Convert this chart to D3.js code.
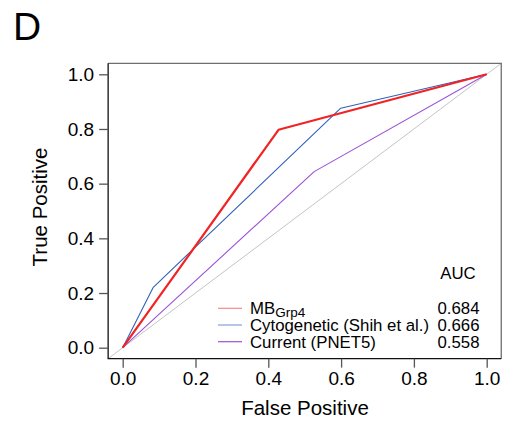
<!DOCTYPE html>
<html>
<head>
<meta charset="utf-8">
<script src="https://cdn.jsdelivr.net/npm/d3@7"></script>
<style>
  body { margin: 0; background: #fff; }
  text { font-family: "Liberation Sans", Arial, sans-serif; fill: #000; }
</style>
</head>
<body>
<script>
  var w = 512; //svg width
  var h = 423; //svg height

  //ROC curves (false positive, true positive)
  var mbFpr = [0, 0.428, 1];
  var mbTpr = [0, 0.797, 1];
  var cytoFpr = [0, 0.084, 0.599, 1];
  var cytoTpr = [0, 0.221, 0.876, 1];
  var currFpr = [0, 0.526, 1];
  var currTpr = [0, 0.644, 1];

  var seriesNames = ["MB", "Cytogenetic (Shih et al.)", "Current (PNET5)"];
  var aucValues = ["0.684", "0.666", "0.558"];
  var seriesColors = ["#f02424", "#2f62b8", "#9b52d6"];
  var legendColors = ["#f58a8a", "#86a0d4", "#9b52d6"];
  var tickValues = [0, 0.2, 0.4, 0.6, 0.8, 1.0];

  var svg = d3.select("body").append("svg")
      .attr("width", w)
      .attr("height", h);

  //SCALES
  var x = d3.scaleLinear().domain([0, 1]).range([122.7, 486.7]);
  var y = d3.scaleLinear().domain([0, 1]).range([347.7, 74.3]);
  var x0 = x(-0.04), x1 = x(1.04), y0 = y(-0.04), y1 = y(1.04);

  //panel letter
  svg.append("text").attr("x", 13).attr("y", 40)
      .style("font-size", "39px").text("D");

  //diagonal, clipped to box
  svg.append("line")
      .attr("x1", x(-0.04)).attr("y1", y(-0.04))
      .attr("x2", x(1.04)).attr("y2", y(1.04))
      .attr("stroke", "#c4c4c4").attr("stroke-width", 1);

  var line = d3.line()
      .x(function(d) { return x(d[0]); })
      .y(function(d) { return y(d[1]); });

  var curves = [
      { fpr: currFpr, tpr: currTpr, color: seriesColors[2], width: 1.1 },
      { fpr: cytoFpr, tpr: cytoTpr, color: seriesColors[1], width: 1.1 },
      { fpr: mbFpr, tpr: mbTpr, color: seriesColors[0], width: 2.2 }
  ];

  curves.forEach(function(c) {
      svg.append("path")
          .attr("d", line(d3.zip(c.fpr, c.tpr)))
          .attr("fill", "none")
          .attr("stroke", c.color)
          .attr("stroke-width", c.width)
          .attr("stroke-linejoin", "round");
  });

  //BOX
  svg.append("path")
      .attr("d", "M" + x0 + "," + y1 + "H" + x1 + "V" + y0)
      .attr("fill", "none").attr("stroke", "#6e6e6e").attr("stroke-width", 1.3);
  svg.append("path")
      .attr("d", "M" + x0 + "," + y1 + "V" + y0 + "H" + x1)
      .attr("fill", "none").attr("stroke", "#111").attr("stroke-width", 1.3);

  //AXES
  var xAxis = svg.append("g")
      .attr("transform", "translate(0," + y0 + ")")
      .call(d3.axisBottom(x).tickValues(tickValues).tickFormat(d3.format(".1f")).tickSize(9).tickPadding(4));
  var yAxis = svg.append("g")
      .attr("transform", "translate(" + x0 + ",0)")
      .call(d3.axisLeft(y).tickValues(tickValues).tickFormat(d3.format(".1f")).tickSize(9).tickPadding(5));
  [xAxis, yAxis].forEach(function(a) {
      a.select(".domain").remove();
      a.selectAll("line").attr("stroke", "#555").attr("stroke-width", 1.3);
      a.selectAll("text").style("font-size", "19px")
          .style("font-family", "'Liberation Sans', Arial, sans-serif");
  });

  svg.append("text").attr("x", 305).attr("y", 415)
      .attr("text-anchor", "middle").style("font-size", "20.5px").text("False Positive");
  svg.append("text")
      .attr("transform", "translate(46.5,207) rotate(-90)")
      .attr("text-anchor", "middle").style("font-size", "20.5px").text("True Positive");

  //LEGEND
  var legY = [308.3, 325, 341.7];
  svg.append("text").attr("x", 458).attr("y", 279)
      .attr("text-anchor", "middle").style("font-size", "16.8px").text("AUC");

  seriesNames.forEach(function(name, i) {
      svg.append("line")
          .attr("x1", 218).attr("x2", 242)
          .attr("y1", legY[i]).attr("y2", legY[i])
          .attr("stroke", legendColors[i]).attr("stroke-width", 1.2);
      var t = svg.append("text").attr("x", 250).attr("y", legY[i] + 6)
          .style("font-size", "16.8px").text(name);
      if (i === 0) {
          t.append("tspan").attr("dy", 3).style("font-size", "13.5px").text("Grp4");
      }
      svg.append("text").attr("x", 479.5).attr("y", legY[i] + 6)
          .attr("text-anchor", "end").style("font-size", "16.8px").text(aucValues[i]);
  });
</script>
</body>
</html>
